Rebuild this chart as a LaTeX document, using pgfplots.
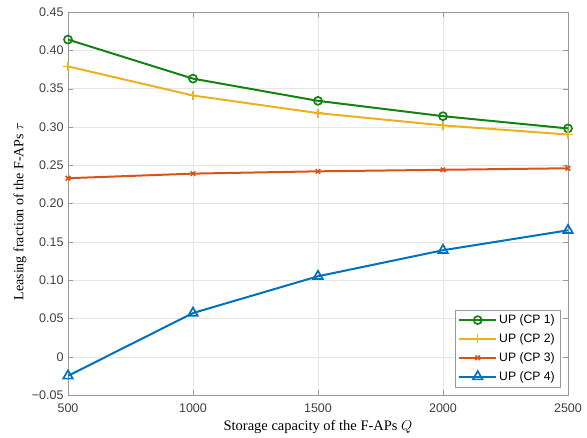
\documentclass[border=0pt]{standalone}
\usepackage{fontspec}
\setmainfont{Liberation Serif}
\newfontfamily\arial{Liberation Sans}
\usepackage{pgfplots}
\pgfplotsset{compat=1.18}
\definecolor{cpA}{RGB}{20,130,20}
\definecolor{cpB}{RGB}{237,177,32}
\definecolor{cpC}{RGB}{217,83,25}
\definecolor{cpD}{RGB}{0,114,189}
\begin{document}
\begin{tikzpicture}
\begin{axis}[
  scale only axis,
  width=500pt, height=383pt,
  xmin=500, xmax=2500, ymin=-0.05, ymax=0.45,
  xtick={500,1000,1500,2000,2500},
  xticklabels={500,1000,1500,2000,2500},
  ytick={-0.05,0,0.05,0.1,0.15,0.2,0.25,0.3,0.35,0.4,0.45},
  yticklabels={−0.05,0,0.05,0.10,0.15,0.20,0.25,0.30,0.35,0.40,0.45},
  tick label style={font=\arial\fontsize{12.5}{14}\selectfont, text=black!75},
  xticklabel style={yshift=-5pt},
  yticklabel style={xshift=-1pt},
  tick align=inside,
  axis line style={black!40},
  major tick style={black!40},
  major tick length=5pt,
  grid=major,
  major grid style={black!10},
  xlabel={Storage capacity of the F-APs $Q$},
  ylabel={Leasing fraction of the F-APs $\tau$},
  every axis x label/.style={at={(axis description cs:0.5,-0.0836)}, anchor=center, font=\fontsize{14.5}{16}\selectfont},
  every axis y label/.style={at={(axis description cs:-0.096,0.479)}, rotate=90, anchor=center, font=\fontsize{14}{16}\selectfont},
  legend style={font=\arial\fontsize{12.2}{14}\selectfont, draw=black!40, at={(1,0)}, anchor=south east, xshift=-8pt, yshift=8pt, row sep=4.5pt, inner sep=3pt},
  legend cell align=left,
  legend image code/.code={\draw[mark repeat=2,mark phase=2] plot coordinates {(0cm,0cm) (0.65cm,0cm) (1.3cm,0cm)};},
  every axis plot/.append style={line width=2pt},
]
\addplot[color=cpA, mark=o, mark size=4pt, mark options={line width=1.7pt}] coordinates {(500,0.414)(1000,0.363)(1500,0.334)(2000,0.314)(2500,0.298)};
\addlegendentry{UP (CP 1)}
\addplot[color=cpB, mark=+, mark size=4.5pt, mark options={line width=1.3pt}] coordinates {(500,0.379)(1000,0.341)(1500,0.318)(2000,0.302)(2500,0.290)};
\addlegendentry{UP (CP 2)}
\addplot[color=cpC, mark=x, mark size=3.2pt, mark options={line width=1.5pt}] coordinates {(500,0.233)(1000,0.239)(1500,0.242)(2000,0.244)(2500,0.246)};
\addlegendentry{UP (CP 3)}
\addplot[color=cpD, mark=triangle, mark size=5.5pt, mark options={line width=1.7pt}] coordinates {(500,-0.025)(1000,0.057)(1500,0.105)(2000,0.139)(2500,0.165)};
\addlegendentry{UP (CP 4)}
\end{axis}
\pgfresetboundingbox
\path (current axis.south west) ++(-68pt,-42pt) rectangle ++(587pt,437pt);
\end{tikzpicture}
\end{document}
